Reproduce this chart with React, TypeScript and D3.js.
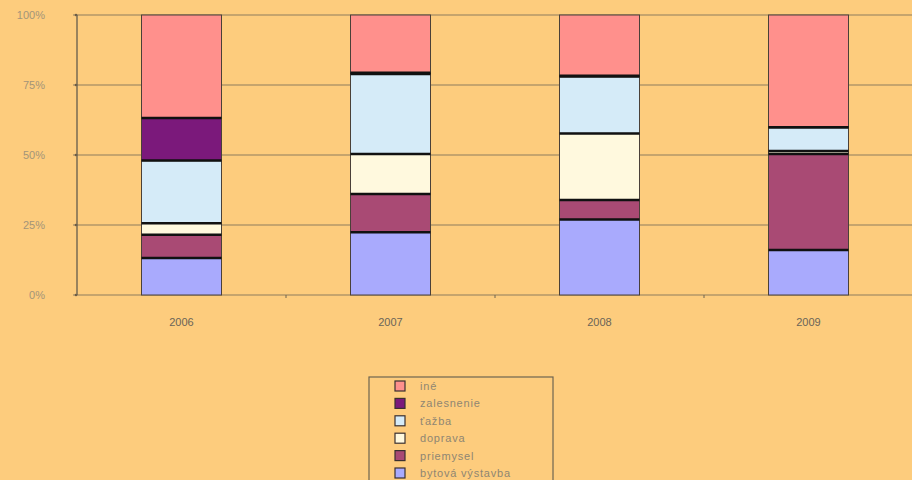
import React from "react";
import * as d3 from "d3";

const years = ["2006", "2007", "2008", "2009"];
const seriesNames = ["bytová výstavba", "priemysel", "doprava", "ťažba", "zalesnenie", "iné"];
const bytova = [13.2, 22.4, 27, 16.1];
const priemysel = [8.3, 13.7, 6.9, 34.3];
const doprava = [4.1, 14.3, 23.8, 1];
const tazba = [22.4, 28.5, 20.3, 8.5];
const zalesnenie = [15.2, 0.5, 0.3, 0];
const ine = [36.8, 20.6, 21.7, 40.1];
const yTicks = [0, 25, 50, 75, 100];
const colors = ["#A9AAFD", "#A94A74", "#FFF9DE", "#D5EBF8", "#7B197B", "#FF908C"];

const W = 912;
const H = 480;

export default function App() {
  const values = [bytova, priemysel, doprava, tazba, zalesnenie, ine];
  const data = years.map((y, i) => {
    const o: any = { year: y };
    seriesNames.forEach((s, k) => (o[s] = values[k][i]));
    return o;
  });
  const stack = d3.stack<any>().keys(seriesNames)(data);

  const left = 77;
  const right = 913;
  const top = 15;
  const bottom = 295;
  const x = d3.scaleBand().domain(years).range([left, right]);
  const y = d3.scaleLinear().domain([0, 100]).range([bottom, top]);
  const bw = 80;

  const legendItems = seriesNames.slice().reverse();
  const legendColors = colors.slice().reverse();
  const font = "Liberation Sans, Arial, sans-serif";

  return (
    <svg width={W} height={H} style={{ position: "absolute", left: 0, top: 0 }} fontFamily={font}>
      <rect x={0} y={0} width={W} height={H} fill="#FDCC7D" />
      {yTicks.map((t) => (
        <g key={t}>
          <line x1={left - 4} x2={right} y1={y(t)} y2={y(t)} stroke="#8d7d5e" strokeWidth={1.2} />
          <circle cx={left - 1} cy={y(t)} r={1.3} fill="#6d5d45" />
          <text x={45} y={y(t) + 4} textAnchor="end" fontSize={11} fill="#a39479">
            {t}%
          </text>
        </g>
      ))}
      <line x1={left} x2={left} y1={top} y2={bottom} stroke="#6e6450" strokeWidth={1.4} />
      {years.map((yr, i) =>
        i > 0 ? (
          <line key={"xt" + yr} x1={x(yr)!} x2={x(yr)!} y1={bottom} y2={bottom + 3} stroke="#6e6450" strokeWidth={1} />
        ) : null
      )}
      {stack.map((s, k) =>
        s.map((d, i) => {
          const yr = years[i];
          const cx = x(yr)! + x.bandwidth() / 2;
          const h = y(d[0]) - y(d[1]);
          if (h <= 0) return null;
          return (
            <rect
              key={k + "-" + i}
              x={cx - bw / 2}
              y={y(d[1])}
              width={bw}
              height={h}
              fill={colors[k]}
              stroke="#4a4038"
              strokeWidth={1}
            />
          );
        })
      )}
      {stack.map((s, k) =>
        k < stack.length - 1
          ? s.map((d, i) => {
              const yr = years[i];
              const cx = x(yr)! + x.bandwidth() / 2;
              return (
                <line
                  key={"sep" + k + "-" + i}
                  x1={cx - bw / 2}
                  x2={cx + bw / 2}
                  y1={y(d[1])}
                  y2={y(d[1])}
                  stroke="#111"
                  strokeWidth={2.5}
                />
              );
            })
          : null
      )}
      {years.map((yr) => (
        <text
          key={"xl" + yr}
          x={x(yr)! + x.bandwidth() / 2}
          y={326}
          textAnchor="middle"
          fontSize={11}
          fill="#6a6458"
        >
          {yr}
        </text>
      ))}
      <rect x={369} y={377} width={184} height={110} fill="none" stroke="#6e6450" strokeWidth={1.2} />
      {legendItems.map((name, i) => {
        const cy = 386 + i * 17.4;
        return (
          <g key={name}>
            <rect x={395} y={cy - 5} width={10} height={10} fill={legendColors[i]} stroke="#3a3030" strokeWidth={1.2} />
            <text x={420} y={cy + 4} fontSize={11} fill="#8f8672" letterSpacing={0.8}>
              {name}
            </text>
          </g>
        );
      })}
    </svg>
  );
}
